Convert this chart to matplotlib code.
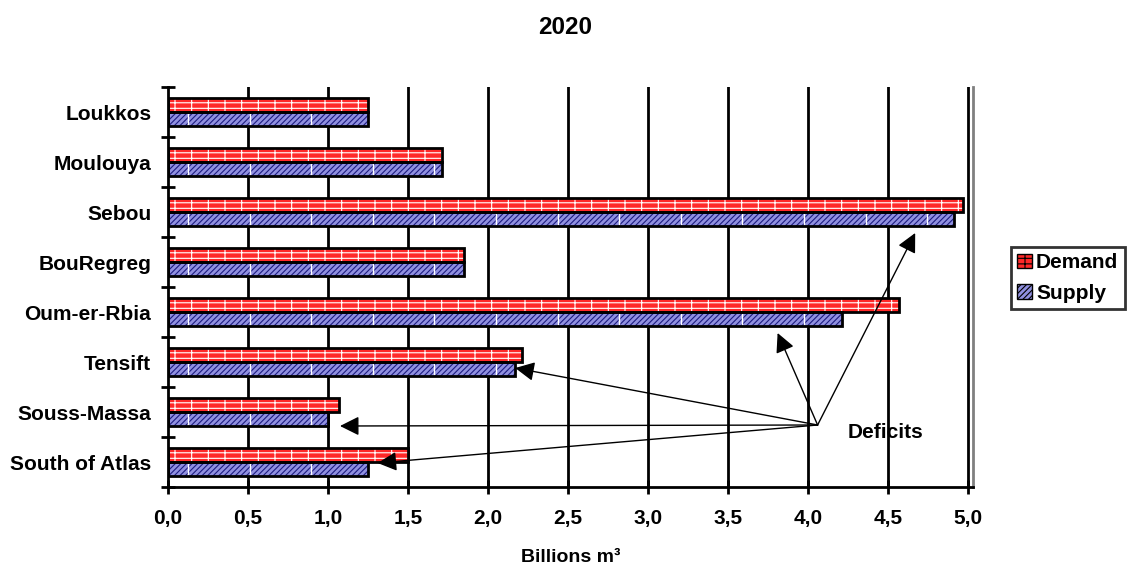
import numpy as np
import matplotlib
matplotlib.use("Agg")
import matplotlib.pyplot as plt
from matplotlib.patches import Patch

plt.rcParams['font.family'] = ['Liberation Sans', 'DejaVu Sans']
plt.rcParams['hatch.linewidth'] = 0.8

categories = ["Loukkos", "Moulouya", "Sebou", "BouRegreg", "Oum-er-Rbia",
              "Tensift", "Souss-Massa", "South of Atlas"]
demand = [1.25, 1.71, 4.97, 1.85, 4.57, 2.21, 1.07, 1.50]
supply = [1.25, 1.71, 4.91, 1.85, 4.21, 2.17, 1.00, 1.25]
xticks = [0.0, 0.5, 1.0, 1.5, 2.0, 2.5, 3.0, 3.5, 4.0, 4.5, 5.0]
xticklabels = ["0,0", "0,5", "1,0", "1,5", "2,0", "2,5", "3,0", "3,5", "4,0", "4,5", "5,0"]

# annotation: start of arrows and targets (x value, category position)
arrow_start = (4.06, 6.26)
arrow_targets = [(4.67, 2.42), (3.81, 4.42), (2.17, 5.12), (1.075, 6.28), (1.31, 7.02)]

FS = 15

fig = plt.figure(figsize=(11.31, 5.70), dpi=100)
ax = fig.add_axes([168/1131, 83/570, (973-168)/1131, 400/570])

y = np.arange(len(categories))
h = 0.28
red = "#FF2828"
blue_face = "#9090E0"

# demand bars: red with white line hatch
ax.barh(y - h/2, demand, height=h, color=red, edgecolor="white", hatch="---|", linewidth=0, zorder=3)
ax.barh(y - h/2, demand, height=h, fill=False, edgecolor="black", linewidth=2, zorder=4)
# supply bars: blue with dark diagonal hatch
ax.barh(y + h/2, supply, height=h, color=blue_face, edgecolor="#1C1C80", hatch="//////", linewidth=0, zorder=3)
for yi, s in zip(y, supply):
    xs = np.arange(0.125, s, 0.385)
    ax.vlines(xs, yi + 0.02, yi + h - 0.02, colors="white", linewidth=1, zorder=3.5)
ax.barh(y + h/2, supply, height=h, fill=False, edgecolor="black", linewidth=2, zorder=4)

ax.set_xlim(0, 5.03125)
ax.set_ylim(len(categories) - 0.5, -0.5)
ax.set_xticks(xticks)
ax.set_xticklabels(xticklabels, fontsize=FS, fontweight="bold")
ax.set_yticks(y)
ax.set_yticklabels(categories, fontsize=FS, fontweight="bold")
ax.set_yticks(np.arange(-0.5, len(categories)), minor=True)
ax.tick_params(axis="y", which="major", length=0, pad=12)
ax.tick_params(axis="y", which="minor", length=10, width=2, direction="inout", color="black")
ax.tick_params(axis="x", which="major", length=10, width=2, direction="inout", pad=11)

for xv in xticks[1:]:
    ax.axvline(xv, color="black", linewidth=2, zorder=1)

for side in ["left", "bottom"]:
    ax.spines[side].set_linewidth(2)
    ax.spines[side].set_color("black")
ax.spines["top"].set_visible(False)
ax.spines["right"].set_color("#808080")
ax.spines["right"].set_linewidth(2)
ax.spines["left"].set_zorder(5)

ax.set_xlabel("Billions m³", fontsize=14, fontweight="bold", labelpad=15)
fig.text(565/1131, 1 - 28/570, "2020", ha="center", va="center", fontsize=17.5, fontweight="bold")

for tx, ty in arrow_targets:
    ax.annotate("", xy=(tx, ty), xytext=arrow_start,
                arrowprops=dict(arrowstyle="-|>,head_length=0.9,head_width=0.45", color="black",
                                lw=1, mutation_scale=13, shrinkA=0, shrinkB=0), zorder=6)
ax.text(4.25, 6.42, "Deficits", fontsize=FS, fontweight="bold", ha="left", va="center", zorder=6)

handles = [Patch(facecolor=red, edgecolor="black", hatch="---|", label="Demand"),
           Patch(facecolor=blue_face, edgecolor="black", hatch="//////", label="Supply")]
leg = fig.legend(handles=handles, loc="upper left", bbox_to_anchor=(1011/1131, 1 - 247/570),
                 prop={"weight": "bold", "size": FS}, frameon=True, fancybox=False,
                 handlelength=0.7, handleheight=0.7, handletextpad=0.2, borderpad=0.3,
                 labelspacing=0.55, borderaxespad=0)
leg.get_frame().set_edgecolor("black")
leg.get_frame().set_linewidth(2)

fig.savefig("out.png", dpi=100)
